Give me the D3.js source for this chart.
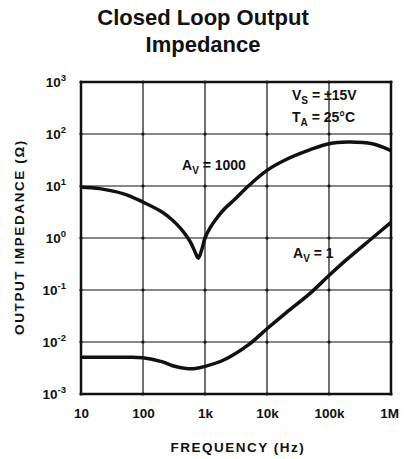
<!DOCTYPE html>
<html>
<head>
<meta charset="utf-8">
<script src="https://cdn.jsdelivr.net/npm/d3@7"></script>
<style>
  body { margin: 0; background: #fff; }
  svg text { font-family: "Liberation Sans", Arial, sans-serif; font-weight: bold; fill: #111; }
</style>
</head>
<body>
<svg id="chart" width="404" height="459"></svg>
<script>
// frequency (Hz) and impedance (ohm)
const freqGain1000 = [10, 20, 50, 100, 200, 300, 400, 500, 600, 700, 780, 880, 1000, 1200, 1500, 2000, 3000, 5000, 10000, 20000, 50000, 100000, 200000, 500000, 1000000];
const zGain1000 = [9.5, 8.9, 7.0, 4.9, 3.2, 2.2, 1.55, 1.1, 0.78, 0.52, 0.41, 0.58, 1.0, 1.55, 2.3, 3.5, 5.5, 10, 20, 32, 50, 65, 70, 65, 48];

const freqGain1 = [10, 50, 100, 200, 300, 500, 700, 1000, 2000, 5000, 10000, 20000, 50000, 100000, 200000, 500000, 1000000];
const zGain1 = [0.0051, 0.0051, 0.0050, 0.0042, 0.0035, 0.0031, 0.0031, 0.0034, 0.0045, 0.0088, 0.018, 0.036, 0.087, 0.19, 0.40, 1.0, 2.0];

const xTicks = [10, 100, 1000, 10000, 100000, 1000000];
const xTickLabels = ['10', '100', '1k', '10k', '100k', '1M'];
const yTicks = [1e-3, 1e-2, 1e-1, 1, 10, 100, 1000];
const yTickExp = ['-3', '-2', '-1', '0', '1', '2', '3'];

const svg = d3.select('#chart');
const plotL = 81, plotR = 391, plotT = 82, plotB = 394;

const x = d3.scaleLog().domain([10, 1e6]).range([plotL, plotR]);
const y = d3.scaleLog().domain([1e-3, 1e3]).range([plotB, plotT]);

// title
svg.append('text').attr('x', 203).attr('y', 25).attr('text-anchor', 'middle')
  .style('font-size', '22px').text('Closed Loop Output');
svg.append('text').attr('x', 203).attr('y', 52).attr('text-anchor', 'middle')
  .style('font-size', '22px').text('Impedance');

// grid
const grid = svg.append('g').attr('stroke', '#111').attr('stroke-width', 1.2);
grid.selectAll('line.v').data(xTicks.slice(1, -1)).enter().append('line')
  .attr('x1', d => x(d)).attr('x2', d => x(d)).attr('y1', plotT).attr('y2', plotB);
grid.selectAll('line.h').data(yTicks.slice(1, -1)).enter().append('line')
  .attr('y1', d => y(d)).attr('y2', d => y(d)).attr('x1', plotL).attr('x2', plotR);

// small dots where the grid crosses
const crossings = [];
xTicks.forEach(fx => yTicks.forEach(fy => crossings.push([fx, fy])));
svg.append('g').selectAll('circle').data(crossings).enter().append('circle')
  .attr('cx', d => x(d[0])).attr('cy', d => y(d[1])).attr('r', 1.6).attr('fill', '#111');

svg.append('rect').attr('x', plotL).attr('y', plotT).attr('width', plotR - plotL).attr('height', plotB - plotT)
  .attr('fill', 'none').attr('stroke', '#111').attr('stroke-width', 2.5);

// axes labels (ticks hidden, only text kept)
const xAxis = d3.axisBottom(x).tickValues(xTicks).tickFormat((d, i) => xTickLabels[i]).tickSize(0).tickPadding(14);
const gx = svg.append('g').attr('transform', `translate(0,${plotB})`).call(xAxis);
gx.select('.domain').remove();
gx.selectAll('text').style('font-size', '13.5px').style('font-family', '"Liberation Sans", Arial, sans-serif')
  .style('font-weight', 'bold').attr('fill', '#111');
gx.selectAll('.tick').filter(d => d === 1e6).select('text').attr('dx', -2);

const gy = svg.append('g');
yTicks.forEach((d, i) => {
  const t = gy.append('text').attr('x', 66).attr('y', y(d) + 5).attr('text-anchor', 'end')
    .style('font-size', '13.5px');
  t.append('tspan').text('10');
  t.append('tspan').attr('dy', -6).style('font-size', '9.5px').text(yTickExp[i]);
});

svg.append('text').attr('x', 238).attr('y', 452).attr('text-anchor', 'middle')
  .style('font-size', '13.5px').style('letter-spacing', '1.5px').text('FREQUENCY (Hz)');
svg.append('text').attr('transform', 'translate(24,237) rotate(-90)').attr('text-anchor', 'middle')
  .style('font-size', '13.5px').style('letter-spacing', '1.6px').text('OUTPUT IMPEDANCE (Ω)');

// curves
const line = d3.line().x(d => x(d[0])).y(d => y(d[1])).curve(d3.curveCatmullRom.alpha(0.5));
svg.append('path').datum(d3.zip(freqGain1000, zGain1000)).attr('d', line)
  .attr('fill', 'none').attr('stroke', '#111').attr('stroke-width', 3.5);
svg.append('path').datum(d3.zip(freqGain1, zGain1)).attr('d', line)
  .attr('fill', 'none').attr('stroke', '#111').attr('stroke-width', 3.5);

// annotations
function subLabel(px, py, main, sub, rest) {
  const t = svg.append('text').attr('x', px).attr('y', py).style('font-size', '14px');
  t.append('tspan').text(main);
  t.append('tspan').attr('dy', 4).style('font-size', '10px').text(sub);
  t.append('tspan').attr('dy', -4).text(rest);
}
subLabel(182, 170, 'A', 'V', ' = 1000');
subLabel(293, 258, 'A', 'V', ' = 1');
subLabel(292, 100, 'V', 'S', ' = \u00b115V');
subLabel(292, 122, 'T', 'A', ' = 25\u00b0C');
</script>
</body>
</html>
